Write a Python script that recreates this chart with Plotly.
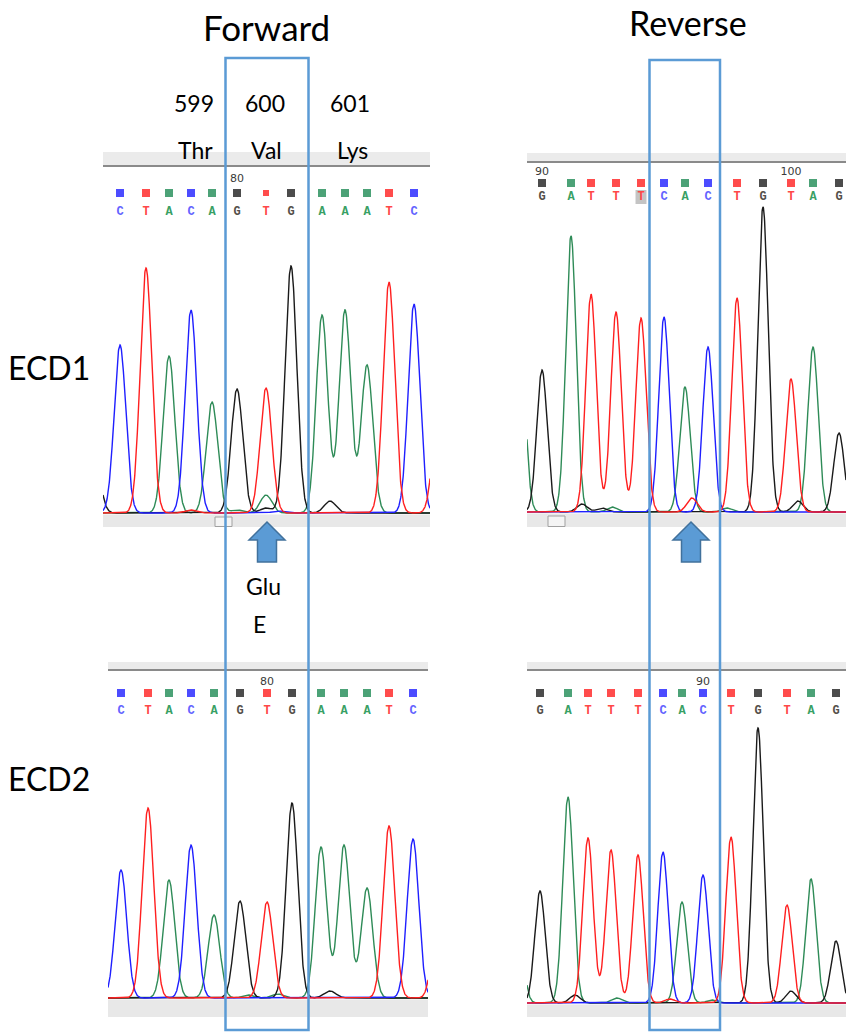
import numpy as np
import plotly.graph_objects as go

W, H = 846, 1032

# ---------------- data ----------------
# base calls, peak centres (scan units) and peak heights (signal units)
fwd1_bases = list("CTACAGTGAAATC")
fwd1_scan = [17, 43, 66, 88, 109, 134, 163, 188, 219, 242, 264, 286, 311]
fwd1_height = [168, 245, 157, 203, 111, 124, 125, 247, 198, 203, 148, 231, 209]
fwd1_minor_base = ["A", "G", "G", "G", "T", "T", "C", "A"]
fwd1_minor_scan = [163, 163, 227, -9, 336, 88, 175, 134]
fwd1_minor_height = [18, 5, 12, 60, 115, 3, 2, 3]

rev1_bases = list("GATTTCACTGTAG")
rev1_scan = [15, 44, 64, 89, 114, 137, 158, 181, 210, 236, 264, 286, 312]
rev1_height = [142, 276, 218, 200, 194, 195, 125, 165, 214, 305, 133, 165, 79]
rev1_minor_base = ["A", "T", "G", "G", "A", "A", "G"]
rev1_minor_scan = [-7, 165, 271, 55, 85, 200, 75]
rev1_minor_height = [180, 14, 11, 8, 5, 4, 4]

fwd2_bases = list("CTACAGTGAAATC")
fwd2_scan = [13, 40, 61, 83, 106, 132, 159, 184, 213, 236, 259, 281, 305]
fwd2_height = [128, 190, 118, 153, 83, 97, 96, 195, 151, 153, 110, 172, 159]
fwd2_minor_base = ["G", "A", "A", "T"]
fwd2_minor_scan = [222, 140, 170, 331]
fwd2_minor_height = [7, 3, 4, 110]

rev2_bases = list("GATTTCACTGTAG")
rev2_scan = [13, 41, 61, 84, 111, 136, 155, 176, 204, 231, 260, 284, 309]
rev2_height = [112, 206, 165, 153, 148, 151, 101, 128, 166, 275, 98, 124, 62]
rev2_minor_base = ["A", "G", "G", "A", "T", "A"]
rev2_minor_scan = [-9, 48, 264, 90, 143, 185]
rev2_minor_height = [80, 8, 12, 5, 4, 3]

# base-number tick labels over the call row
fwd1_num_text, fwd1_num_index = ["80"], [5]
rev1_num_text, rev1_num_index = ["90", "100"], [0, 10]
fwd2_num_text, fwd2_num_index = ["80"], [6]
rev2_num_text, rev2_num_index = ["90"], [7]

codon_numbers = ["599", "600", "601"]
codon_aminos = ["Thr", "Val", "Lys"]
column_titles = ["Forward", "Reverse"]
row_titles = ["ECD1", "ECD2"]
mutation_text = ["Glu", "E"]

# ---------------- styles ----------------
TRACE_COL = {"C": "#1f1fff", "T": "#ff1f1f", "A": "#2e8b57", "G": "#1a1a1a"}
SQ_COL = {"C": "#0000ff", "T": "#ff0000", "A": "#007a3d", "G": "#000000"}
LET_COL = {"C": "#6464ff", "T": "#ff4848", "A": "#38a064", "G": "#55504a"}
DRAW_ORDER = ["A", "G", "C", "T"]
BOX_BLUE = "#5b9bd5"
FONT = "Lato"

panels = [
    dict(bases=fwd1_bases, scan=fwd1_scan, height=fwd1_height,
         mb=fwd1_minor_base, ms=fwd1_minor_scan, mh=fwd1_minor_height,
         nt=fwd1_num_text, ni=fwd1_num_index,
         left=103, right=430, top=152, bottom=527, base=513,
         hline=166, num_y=179, sq_y=193, let_y=212, sigma=5.8,
         thumb=(215, 232, 517), highlight=None, small_sq=6),
    dict(bases=rev1_bases, scan=rev1_scan, height=rev1_height,
         mb=rev1_minor_base, ms=rev1_minor_scan, mh=rev1_minor_height,
         nt=rev1_num_text, ni=rev1_num_index,
         left=527, right=846, top=153, bottom=527, base=512,
         hline=162, num_y=172, sq_y=183, let_y=197, sigma=5.2,
         thumb=(548, 565, 516), highlight=4, small_sq=None),
    dict(bases=fwd2_bases, scan=fwd2_scan, height=fwd2_height,
         mb=fwd2_minor_base, ms=fwd2_minor_scan, mh=fwd2_minor_height,
         nt=fwd2_num_text, ni=fwd2_num_index,
         left=108, right=428, top=662, bottom=1017, base=998,
         hline=670, num_y=682, sq_y=693, let_y=711, sigma=5.8,
         thumb=None, highlight=None, small_sq=None),
    dict(bases=rev2_bases, scan=rev2_scan, height=rev2_height,
         mb=rev2_minor_base, ms=rev2_minor_scan, mh=rev2_minor_height,
         nt=rev2_num_text, ni=rev2_num_index,
         left=527, right=846, top=662, bottom=1017, base=1003,
         hline=670, num_y=682, sq_y=693, let_y=711, sigma=5.2,
         thumb=None, highlight=None, small_sq=None),
]


def px(x):
    return x / W


def py(y):
    return 1 - y / H


fig = go.Figure()
shapes = []
layout_axes = {}

for k, p in enumerate(panels, start=1):
    xa = "x" if k == 1 else f"x{k}"
    ya = "y" if k == 1 else f"y{k}"
    xname = "xaxis" if k == 1 else f"xaxis{k}"
    yname = "yaxis" if k == 1 else f"yaxis{k}"
    xr = [0, p["right"] - p["left"]]
    yr = [p["base"] - p["bottom"], p["base"] - p["top"]]
    layout_axes[xname] = dict(domain=[px(p["left"]), px(p["right"])], range=xr,
                              visible=False, fixedrange=True, anchor=ya)
    layout_axes[yname] = dict(domain=[py(p["bottom"]), py(p["top"])], range=yr,
                              visible=False, fixedrange=True, anchor=xa)

    def lvl(ypix):
        return p["base"] - ypix

    # header band + divider line
    shapes.append(dict(type="rect", xref=f"{xa} domain", yref=ya, x0=0, x1=1,
                       y0=lvl(p["hline"] - 1), y1=yr[1], fillcolor="#ebebeb",
                       line_width=0, layer="below"))
    shapes.append(dict(type="line", xref=f"{xa} domain", yref=ya, x0=0, x1=1,
                       y0=lvl(p["hline"]), y1=lvl(p["hline"]),
                       line=dict(color="#8a8a8a", width=2), layer="below"))
    # bottom scroll bar
    shapes.append(dict(type="rect", xref=f"{xa} domain", yref=ya, x0=0, x1=1,
                       y0=yr[0], y1=-1.5, fillcolor="#e8e8e8",
                       line_width=0, layer="below"))
    if p["thumb"]:
        tx0, tx1, ty = p["thumb"]
        shapes.append(dict(type="rect", xref=xa, yref=ya,
                           x0=tx0 - p["left"], x1=tx1 - p["left"],
                           y0=yr[0] + 0.5, y1=lvl(ty),
                           fillcolor="#f4f4f4", line=dict(color="#a0a0a0", width=1),
                           layer="below"))
    if p["highlight"] is not None:
        hx = p["scan"][p["highlight"]]
        shapes.append(dict(type="rect", xref=xa, yref=ya, x0=hx - 5.5, x1=hx + 5.5,
                           y0=lvl(p["let_y"] + 7), y1=lvl(p["let_y"] - 7),
                           fillcolor="#c4c4c4", line_width=0, layer="below"))

    # chromatogram traces
    xs = np.linspace(xr[0], xr[1], 1400)
    sig = p["sigma"]
    for b in DRAW_ORDER:
        ysum = np.zeros_like(xs)
        for bb, s, h in zip(p["bases"], p["scan"], p["height"]):
            if bb == b:
                ysum += h * np.exp(-0.5 * ((xs - s) / sig) ** 2)
        for bb, s, h in zip(p["mb"], p["ms"], p["mh"]):
            if bb == b:
                ysum += h * np.exp(-0.5 * ((xs - s) / sig) ** 2)
        fig.add_trace(go.Scatter(x=xs, y=ysum, mode="lines", xaxis=xa, yaxis=ya,
                                 line=dict(color=TRACE_COL[b], width=1.4),
                                 hoverinfo="skip", showlegend=False))

    # base-call squares
    sizes = [8] * len(p["bases"])
    if p["small_sq"] is not None:
        sizes[6] = p["small_sq"]
    fig.add_trace(go.Scatter(x=p["scan"], y=[lvl(p["sq_y"])] * len(p["bases"]),
                             mode="markers", xaxis=xa, yaxis=ya,
                             marker=dict(symbol="square", size=sizes,
                                         color=[SQ_COL[b] for b in p["bases"]], line_width=0),
                             hoverinfo="skip", showlegend=False))
    # base-call letters
    fig.add_trace(go.Scatter(x=p["scan"], y=[lvl(p["let_y"])] * len(p["bases"]),
                             mode="text", text=p["bases"], xaxis=xa, yaxis=ya,
                             textfont=dict(family="Liberation Mono", size=12, weight="bold",
                                           color=[LET_COL[b] for b in p["bases"]]),
                             hoverinfo="skip", showlegend=False, cliponaxis=False))
    # base numbers
    fig.add_trace(go.Scatter(x=[p["scan"][i] for i in p["ni"]],
                             y=[lvl(p["num_y"])] * len(p["ni"]),
                             mode="text", text=p["nt"], xaxis=xa, yaxis=ya,
                             textfont=dict(family="DejaVu Sans", size=11, color="#3a3a3a"),
                             hoverinfo="skip", showlegend=False, cliponaxis=False))

# blue highlight boxes
for (x0, x1, y0, y1) in [(225.5, 308.5, 58, 1030), (649.5, 720, 60, 1030)]:
    shapes.append(dict(type="rect", xref="paper", yref="paper",
                       x0=px(x0), x1=px(x1), y0=py(y1), y1=py(y0),
                       line=dict(color=BOX_BLUE, width=2.5), fillcolor="rgba(0,0,0,0)",
                       layer="above"))

# block arrows
for cx in [267, 691]:
    pts = [(cx, 522), (cx + 18, 540), (cx + 9.5, 540), (cx + 9.5, 562),
           (cx - 9.5, 562), (cx - 9.5, 540), (cx - 18, 540)]
    path = "M " + " L ".join(f"{px(a):.5f},{py(b):.5f}" for a, b in pts) + " Z"
    shapes.append(dict(type="path", xref="paper", yref="paper", path=path,
                       fillcolor=BOX_BLUE, line=dict(color="#41719c", width=1.5),
                       layer="above"))

annotations = []


def add_text(text, x, y, size):
    annotations.append(dict(text=text, x=px(x), y=py(y), xref="paper", yref="paper",
                            showarrow=False, xanchor="center", yanchor="middle",
                            font=dict(family=FONT, size=size, color="#000000")))


add_text(column_titles[0], 266, 27, 35)
add_text(column_titles[1], 688, 22, 34)
for t, x in zip(codon_numbers, [194, 265, 350]):
    add_text(t, x, 103, 23)
for t, x in zip(codon_aminos, [195, 266, 352]):
    add_text(t, x, 150, 23)
add_text(row_titles[0], 49, 368, 32)
add_text(row_titles[1], 49, 778, 32)
add_text(mutation_text[0], 263, 586, 23)
add_text(mutation_text[1], 259, 624, 23)

fig.update_layout(width=W, height=H, margin=dict(l=0, r=0, t=0, b=0),
                  paper_bgcolor="white", plot_bgcolor="rgba(0,0,0,0)",
                  shapes=shapes, annotations=annotations, showlegend=False,
                  **layout_axes)

fig.write_html("out.html", config={"displayModeBar": False},
               post_script="document.body.style.margin='0';")
